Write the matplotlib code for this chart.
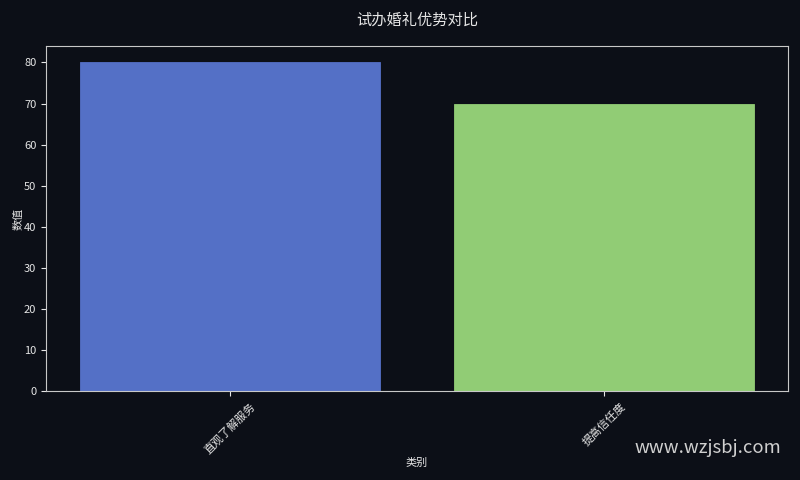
import matplotlib
matplotlib.use("Agg")
import matplotlib.pyplot as plt

categories = ["直观了解服务", "提高信任度"]
values = [80, 70]
colors = ["#5470c6", "#91cc75"]

plt.rcParams['font.family'] = ['Noto Sans CJK SC', 'DejaVu Sans']
bg = "#0c0f17"
fg = "#e6e6e6"

fig = plt.figure(figsize=(8, 4.8), dpi=100, facecolor=bg)
ax = fig.add_axes([46/800, 1-391/480, (788-46)/800, (391-46)/480])
ax.set_facecolor(bg)
ax.bar(range(len(categories)), values, width=0.8, color=colors, edgecolor=colors, linewidth=0.6)
ax.set_xticks(range(len(categories)))
ax.set_xticklabels(categories, rotation=45, fontsize=8, color=fg)
ax.tick_params(axis='y', labelsize=8, colors=fg)
ax.tick_params(axis='x', colors=fg)
for s in ax.spines.values():
    s.set_color("#c8c8c8")
ax.set_xlabel("类别", fontsize=8, color=fg, labelpad=2)
ax.set_ylabel("数值", fontsize=8, color=fg, labelpad=0)
ax.set_title("试办婚礼优势对比", fontsize=11, color=fg, pad=15)
fig.text(0.976, 0.066, "www.wzjsbj.com", fontsize=13.3, color="#d0d0d0", ha="right", va="center")
fig.savefig("out.png", dpi=100, facecolor=bg)
